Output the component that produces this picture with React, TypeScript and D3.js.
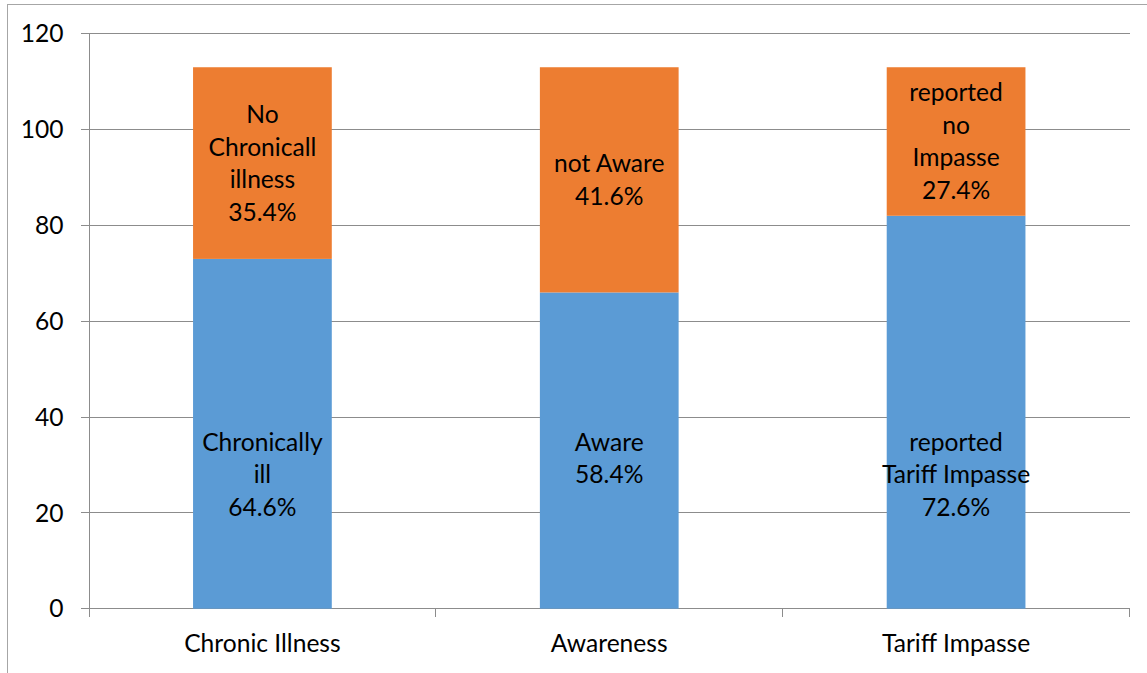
import React from "react";
import * as d3 from "d3";

// Respondent counts per question (total 113 each)
const categories = ["Chronic Illness", "Awareness", "Tariff Impasse"];
const blueValues = [73, 66, 82];
const orangeValues = [40, 47, 31];
const blueLabels = [["Chronically", "ill"], ["Aware"], ["reported", "Tariff Impasse"]];
const orangeLabels = [["No", "Chronicall", "illness"], ["not Aware"], ["reported", "no", "Impasse"]];
const yTicks = [0, 20, 40, 60, 80, 100, 120];

const W = 1147;
const H = 673;
const FONT = "Lato, 'Open Sans', sans-serif";
const FS = 24.6;
const LINE = 32.5;
const CAP_HALF = 8.7;
const BLUE = "#5B9BD5";
const ORANGE = "#ED7D31";
const GRID = "#8c8c8c";
const FRAME = "#a6a6a6";
// value at which the first line of each lower label sits
const BLUE_LABEL_ANCHOR = 33;

export default function App() {
  const left = 89;
  const right = 1129.5;
  const top = 33.7;
  const bottom = 608.7;

  const x = d3.scaleBand<string>().domain(categories).range([left, right]).paddingInner(0).paddingOuter(0);
  const y = d3.scaleLinear().domain([0, 120]).range([bottom, top]);
  const bw = x.bandwidth();
  const barW = bw * 0.4;
  const fmt = d3.format(".1%");

  const stack = categories.map((c, i) => {
    const total = blueValues[i] + orangeValues[i];
    return {
      c,
      blue: blueValues[i],
      orange: orangeValues[i],
      total,
      bluePct: fmt(blueValues[i] / total),
      orangePct: fmt(orangeValues[i] / total),
    };
  });

  const bandEdges = [...categories.map((c) => x(c) as number), right];

  return (
    <svg
      width={W}
      height={H}
      style={{ position: "absolute", left: 0, top: 0, background: "#fff" }}
      fontFamily={FONT}
    >
      <rect x={0} y={0} width={W} height={H} fill="#fff" />
      {/* chart frame */}
      <rect x={7.5} y={4.5} width={W + 50} height={H + 50} fill="none" stroke={FRAME} strokeWidth={1} />

      {/* gridlines and y ticks */}
      {yTicks.map((t) => (
        <g key={t}>
          <line x1={81} x2={right} y1={y(t)} y2={y(t)} stroke={GRID} strokeWidth={1} shapeRendering="crispEdges" />
          <text x={63.5} y={y(t) + CAP_HALF} textAnchor="end" fontSize={FS} fill="#000">
            {t}
          </text>
        </g>
      ))}

      {/* y axis */}
      <line x1={left} x2={left} y1={top} y2={bottom} stroke={GRID} strokeWidth={1} shapeRendering="crispEdges" />

      {/* category tick marks */}
      {bandEdges.map((e, i) => (
        <line key={i} x1={e} x2={e} y1={bottom} y2={bottom + 8.5} stroke={GRID} strokeWidth={1} shapeRendering="crispEdges" />
      ))}

      {/* stacked bars */}
      {stack.map((d) => {
        const bx = (x(d.c) as number) + (bw - barW) / 2;
        return (
          <g key={d.c}>
            <rect x={bx} y={y(d.blue)} width={barW} height={y(0) - y(d.blue)} fill={BLUE} />
            <rect x={bx} y={y(d.total)} width={barW} height={y(d.blue) - y(d.total)} fill={ORANGE} />
          </g>
        );
      })}

      {/* data labels */}
      {stack.map((d, i) => {
        const cx = (x(d.c) as number) + bw / 2;
        const oLines = [...orangeLabels[i], d.orangePct];
        const oCenter = (y(d.blue) + y(d.total)) / 2;
        const oStart = oCenter - ((oLines.length - 1) / 2) * LINE + CAP_HALF;
        const bLines = [...blueLabels[i], d.bluePct];
        const bStart = y(BLUE_LABEL_ANCHOR);
        return (
          <g key={d.c} fontSize={FS} fill="#000" textAnchor="middle">
            {oLines.map((t, j) => (
              <text key={"o" + j} x={cx} y={oStart + j * LINE}>
                {t}
              </text>
            ))}
            {bLines.map((t, j) => (
              <text key={"b" + j} x={cx} y={bStart + j * LINE}>
                {t}
              </text>
            ))}
          </g>
        );
      })}

      {/* category labels */}
      {categories.map((c) => (
        <text key={c} x={(x(c) as number) + bw / 2} y={652.3} textAnchor="middle" fontSize={FS} fill="#000">
          {c}
        </text>
      ))}
    </svg>
  );
}
